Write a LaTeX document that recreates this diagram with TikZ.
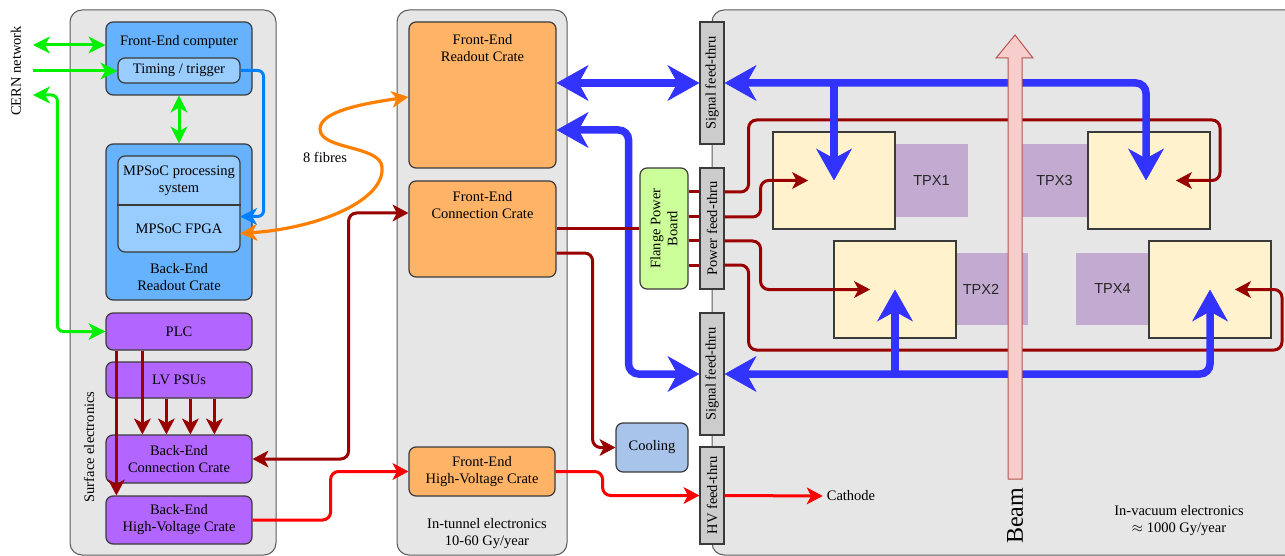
\documentclass[tikz,border=0pt]{standalone}
\usepackage{fontspec}
\setmainfont{Liberation Serif}
\newfontfamily\sansf{Liberation Sans}
\usetikzlibrary{arrows.meta,calc}
\definecolor{bord}{HTML}{3A3A3A}
\definecolor{panelc}{HTML}{E6E6E6}
\definecolor{panelb}{HTML}{5A5A5A}
\definecolor{bluea}{HTML}{66B2FF}
\definecolor{blueb}{HTML}{99CCFF}
\definecolor{purp}{HTML}{B266FF}
\definecolor{orng}{HTML}{FFB366}
\definecolor{flg}{HTML}{CCFF99}
\definecolor{cool}{HTML}{A9C4EB}
\definecolor{ftc}{HTML}{CCCCCC}
\definecolor{chip}{HTML}{FFF2CC}
\definecolor{tpxc}{HTML}{C3AAD0}
\definecolor{beamf}{HTML}{F8CECC}
\definecolor{beamd}{HTML}{B85450}
\definecolor{gline}{HTML}{00F000}
\definecolor{tline}{HTML}{007FFF}
\definecolor{oline}{HTML}{FF8000}
\definecolor{drline}{HTML}{990000}
\definecolor{rline}{HTML}{FF0000}
\definecolor{bthick}{HTML}{3333FF}
\newcommand\dfs{\fontsize{14.5}{17}\selectfont}
\tikzset{
  panel/.style={draw=panelb, fill=panelc, line width=1pt, rounded corners=12pt, inner sep=0pt},
  bbox/.style={draw=bord, line width=1.2pt, rounded corners=7pt, inner sep=0pt, align=center, font=\dfs},
  fbox/.style={draw=bord, line width=1.2pt, fill=ftc, inner sep=0pt},
  cbox/.style={draw=bord, line width=1.2pt, fill=chip, inner sep=0pt, minimum width=122, minimum height=97},
  tbox/.style={fill=tpxc, inner sep=0pt, font=\sansf\fontsize{14.5}{16}\selectfont, text=black!85},
  txt/.style={inner sep=0pt, align=center, font=\dfs},
  gt/.tip={Stealth[length=17pt,width=17pt,inset=5pt,line width=0.8pt]},
  rt/.tip={Stealth[length=16pt,width=17pt,inset=4.5pt,line width=0.8pt]},
  bt/.tip={Stealth[length=32pt,width=36pt,inset=10pt,line width=0.8pt]},
  gl/.style={draw=gline, line width=3pt, rounded corners=6pt},
  tl/.style={draw=tline, line width=3pt, rounded corners=6pt},
  ol/.style={draw=oline, line width=3.2pt},
  dl/.style={draw=drline, line width=3pt, rounded corners=8pt},
  rl/.style={draw=rline, line width=3pt, rounded corners=8pt},
  bl/.style={draw=bthick, line width=7.5pt, rounded corners=10pt},
}
\begin{document}
\begin{tikzpicture}[x=1pt,y=-1pt]
\useasboundingbox (0,0) rectangle (1285,556);
% panels
\node[panel, minimum width=206, minimum height=545] (surf) at (173,282.5) {};
\node[panel, minimum width=170, minimum height=545] (tunnel) at (482,282.5) {};
\begin{scope}
\clip (0,0) rectangle (1285,556);
\draw[fill=panelc, draw=panelb, line width=1pt, rounded corners=12pt] (1300,10) -- (712,10) -- (712,555) -- (1300,555);
\end{scope}

% left column
\node[bbox, fill=bluea, minimum width=146, minimum height=73] (fec) at (179,58.5) {};
\node[txt] (fect) at (179,42) {Front-End computer};
\node[bbox, fill=blueb, minimum width=122, minimum height=25] (timing) at (179,70.5) {Timing / trigger};
\node[bbox, fill=bluea, minimum width=146, minimum height=156] (bero) at (179,222) {};
\node[txt] (berot) at (179,277.5) {Back-End\\Readout Crate};
\node[bbox, fill=blueb, minimum width=122, minimum height=96] (mpsoc) at (179,204) {};
\coordinate (dv) at (0,205);
\draw[draw=bord, line width=1.2pt] (mpsoc.west |- dv) -- (mpsoc.east |- dv);
\node[txt] (mpsocps) at (179,180.5) {MPSoC processing\\system};
\node[txt, minimum width=122, minimum height=47] (fpga) at (179,228.5) {MPSoC FPGA};
\node[bbox, fill=purp, minimum width=146, minimum height=37] (plc) at (179,331.5) {PLC};
\node[bbox, fill=purp, minimum width=146, minimum height=36] (lv) at (179,380) {LV PSUs};
\node[bbox, fill=purp, minimum width=146, minimum height=48] (bec) at (179,459) {Back-End\\Connection Crate};
\node[bbox, fill=purp, minimum width=146, minimum height=48] (behv) at (179,520) {Back-End\\High-Voltage Crate};
\node[txt, rotate=90] (surft) at (89,447) {Surface electronics};
\node[txt, rotate=90] (cern) at (16,71) {CERN network};

% middle column
\node[bbox, fill=orng, minimum width=147, minimum height=146] (fero) at (482.5,95) {};
\node[txt] (ferot) at (482.5,48) {Front-End\\Readout Crate};
\node[bbox, fill=orng, minimum width=147, minimum height=96] (fecc) at (482.5,229) {};
\node[txt] (fecct) at (482.5,205) {Front-End\\Connection Crate};
\node[bbox, fill=orng, minimum width=146, minimum height=49] (fehv) at (482,471.5) {Front-End\\High-Voltage Crate};
\node[txt] (tunt) at (487,533.5) {In-tunnel electronics\\10-60 Gy/year};
\node[txt] (fib) at (325,157) {8 fibres};

% flange, cooling, feed-thrus
\node[bbox, fill=flg, minimum width=48, minimum height=121] (flange) at (664,228.5) {};
\node[txt, rotate=90] (flanget) at (flange) {Flange Power\\Board};
\node[bbox, fill=cool, minimum width=72, minimum height=49] (cooling) at (652,447.5) {Cooling};
\node[fbox, minimum width=24, minimum height=122] (sft1) at (712,83) {};
\node[fbox, minimum width=24, minimum height=121] (pft) at (712,228.5) {};
\node[fbox, minimum width=24, minimum height=122] (sft2) at (712,374) {};
\node[fbox, minimum width=24, minimum height=97] (hvft) at (712,495.5) {};
\node[txt, rotate=90] (sft1t) at (sft1) {Signal feed-thru};
\node[txt, rotate=90] (pftt) at (pft) {Power feed-thru};
\node[txt, rotate=90] (sft2t) at (sft2) {Signal feed-thru};
\node[txt, rotate=90] (hvftt) at (hvft) {HV feed-thru};
\node[txt, inner sep=4pt] (cath) at (851,496) {Cathode};

% chips
\node[tbox, minimum width=73, minimum height=73] (tpx1l) at (931.5,180.5) {TPX1};
\node[tbox, minimum width=67, minimum height=73] (tpx3l) at (1054.5,180.5) {TPX3};
\node[tbox, minimum width=72, minimum height=72] (tpx2l) at (992,289) {};
\node[tbox, fill=none] (tpx2lt) at (981,289) {TPX2};
\node[tbox, minimum width=73, minimum height=72] (tpx4l) at (1112.5,289) {TPX4};
\node[cbox] (tpx1c) at (834,180.5) {};
\node[cbox] (tpx3c) at (1149,180.5) {};
\node[cbox] (tpx2c) at (895,289.5) {};
\node[cbox] (tpx4c) at (1210,289.5) {};

% green connectors
\coordinate (c1) at (33,45);
\coordinate (c2) at (33,71);
\coordinate (c3) at (33,95);
\draw[gl, gt-gt] (c1) -- (c1 -| fec.west);
\draw[gl, -gt] (c2) -- (c2 -| timing.west);
\draw[gl, gt-gt] (plc.west) -- ++(-48,0) |- (c3);
\draw[gl, gt-gt] (fec.south) -- (bero.north);

% timing -> fpga
\draw[tl, -gt] (timing.east) -- ++(23,0) |- ([yshift=12pt]fpga.east);

% fibres
\draw[ol, gt-gt] ([yshift=-5pt]fpga.east) .. controls (320,228) and (385,200) .. (382,167)
  .. controls (380,145) and (320,150) .. (320,129)
  .. controls (320,112) and (360,104) .. ([yshift=-2pt]fero.west);

% dark red, left
\draw[dl, -rt] ([xshift=11pt]plc.south west) -- ([xshift=11pt]behv.north west);
\draw[dl, -rt] ([xshift=37pt]plc.south west) -- ([xshift=37pt]bec.north west);
\draw[dl, -rt] ([xshift=61pt]lv.south west) -- ([xshift=61pt]bec.north west);
\draw[dl, -rt] ([xshift=85pt]lv.south west) -- ([xshift=85pt]bec.north west);
\draw[dl, -rt] ([xshift=109pt]lv.south west) -- ([xshift=109pt]bec.north west);
\draw[dl, rt-rt] (bec.east) -- ++(96,0) |- ([yshift=16pt]fecc.west);

% red HV
\draw[rl, -rt] (behv.east) -- ++(78,0) |- (fehv.west);
\draw[rl, -rt] (fehv.east) -- ++(47,0) |- (hvft.west);
\draw[rl, -rt] (hvft.east) -- (cath.west);

% dark red, power to chips
\coordinate (p1) at (712,192);
\coordinate (p2) at (712,217);
\coordinate (p3) at (712,241);
\coordinate (p4) at (712,265);
\foreach \p in {p1,p2,p3,p4} \draw[dl] (flange.east |- \p) -- (pft.west |- \p);
\draw[dl, -rt] (pft.east |- p1) -- ++(24,0) |- (1220,120) |- ([xshift=27pt]tpx3c.center);
\draw[dl, -rt] (pft.east |- p2) -- ++(36,0) |- ([xshift=-26pt]tpx1c.center);
\draw[dl, -rt] (pft.east |- p3) -- ++(36,0) |- ([xshift=-25pt]tpx2c.center);
\draw[dl, -rt] (pft.east |- p4) -- ++(24,0) |- (1282,350) |- ([xshift=25pt]tpx4c.center);

% thick blue signal
\draw[bl, bt-bt] (sft1.west -| fero.east) -- (sft1.west);
\draw[bl, bt-bt] ([yshift=-35pt]fero.east) -- ++(72,0) |- (sft2.west);
\draw[bl, bt-bt] (sft1.east) -| ([xshift=-3pt]tpx3c.center);
\draw[bl, -bt] (tpx1c.center |- sft1.east) -- (tpx1c.center);
\draw[bl, bt-bt] (sft2.east) -| (tpx4c.center);
\draw[bl, -bt] (tpx2c.center |- sft2.east) -- (tpx2c.center);

% connection crate -> flange, cooling
\draw[dl] (fecc.east) -- (fecc.east -| flange.west);
\draw[dl, -rt] ([yshift=-24pt]fecc.east) -- ++(36,0) |- (cooling.west);

% beam
\draw[fill=beamf, draw=beamd, line width=1pt] (1008,479) -- (1008,58) -- (996,58) -- (1015,35) -- (1033,58) -- (1022,58) -- (1022,479) -- cycle;
\node[txt, rotate=90, font=\fontsize{24}{28}\selectfont] (beamt) at (1015,516) {Beam};
\node[txt] (vact) at (1179,521) {In-vacuum electronics\\$\approx$ 1000 Gy/year};
\end{tikzpicture}
\end{document}
